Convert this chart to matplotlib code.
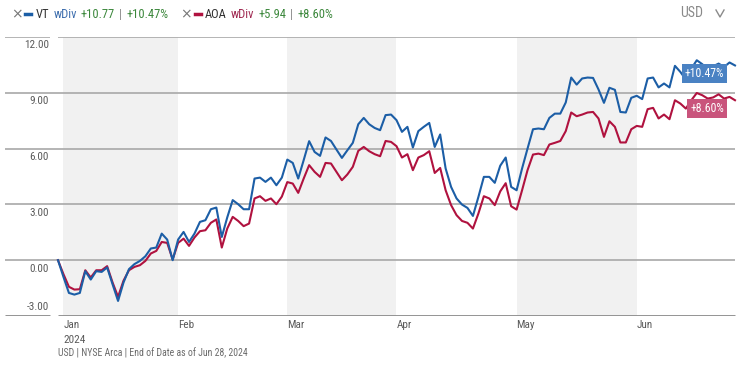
import matplotlib
matplotlib.use('Agg')
import matplotlib.pyplot as plt
from matplotlib import font_manager
from matplotlib.lines import Line2D

# pick a narrow font if there is one, else Roboto
names = set(f.name for f in font_manager.fontManager.ttflist)
FONT = 'Roboto'
for cand in ['Liberation Sans Narrow', 'Roboto Condensed', 'Noto Sans Condensed',
             'Open Sans Condensed', 'Noto Sans SemiCondensed', 'Open Sans SemiCondensed']:
    if cand in names:
        FONT = cand
        break
plt.rcParams['font.family'] = [FONT, 'DejaVu Sans']

# trading days, Dec 29 2023 (base) .. Jun 28 2024, cumulative return in %
vt = [0, -0.9, -1.76, -1.85, -1.76, -0.59, -1.04, -0.59, -0.63, -0.39,
      -1.3, -2.19, -1.2, -0.48, -0.21, -0.04, 0.21, 0.63, 0.68, 1.43,
      1.11, 0.0, 1.11, 1.52, 0.98, 1.43, 2.06, 2.15, 2.74, 2.83,
      1.25, 2.3, 3.23, 3.01, 2.74, 2.74, 4.39, 4.44, 4.21, 4.44,
      4.03, 4.44, 5.41, 5.23, 4.39, 5.38, 6.4, 5.82, 5.61, 6.6,
      6.41, 5.95, 5.5, 5.91, 6.31, 7.31, 7.65, 7.31, 7.11, 6.99,
      7.8, 7.83, 7.53, 6.9, 7.17, 6.06, 6.94, 7.17, 7.38, 6.09,
      6.76, 4.93, 3.94, 3.32, 2.99, 2.81, 2.38, 3.4, 4.48, 4.48,
      4.16, 5.08, 5.52, 3.94, 3.76, 4.93, 6.0, 7.04, 7.08, 7.04,
      7.65, 7.88, 7.88, 8.48, 9.82, 9.44, 9.77, 9.82, 9.8, 9.18,
      8.46, 9.27, 9.16, 7.97, 7.94, 8.73, 8.84, 8.66, 9.77, 9.82,
      9.29, 9.5, 9.29, 10.45, 10.12, 9.71, 10.3, 10.75, 10.54, 10.27,
      10.43, 10.57, 10.39, 10.63, 10.47]

aoa = [0, -0.75, -1.43, -1.58, -1.56, -0.54, -0.93, -0.54, -0.54, -0.32,
       -1.2, -1.97, -1.1, -0.54, -0.36, -0.27, -0.04, 0.36, 0.5, 0.98,
       0.93, 0.04, 0.93, 1.16, 0.77, 1.22, 1.56, 1.61, 2.01, 2.19,
       0.68, 1.7, 2.33, 2.11, 1.83, 1.97, 3.32, 3.44, 3.19, 3.32,
       3.01, 3.42, 4.2, 4.12, 3.62, 4.39, 5.11, 4.75, 4.48, 5.23,
       5.2, 4.75, 4.3, 4.61, 5.02, 5.88, 6.09, 5.86, 5.7, 5.59,
       6.41, 6.36, 6.13, 5.52, 5.7, 4.84, 5.52, 5.65, 5.86, 4.69,
       4.96, 3.76, 2.96, 2.42, 2.11, 2.01, 1.7, 2.51, 3.44, 3.32,
       2.96, 3.7, 4.14, 2.9, 2.72, 3.76, 4.84, 5.68, 5.73, 5.65,
       6.22, 6.31, 6.41, 6.94, 7.94, 7.74, 7.83, 7.94, 7.97, 7.62,
       6.63, 7.47, 7.17, 6.33, 6.33, 7.04, 7.22, 7.17, 8.12, 8.19,
       7.62, 7.83, 7.58, 8.6, 8.42, 8.15, 8.6, 8.99, 8.87, 8.69,
       8.75, 8.92, 8.69, 8.78, 8.60]

months = ['Jan', 'Feb', 'Mar', 'Apr', 'May', 'Jun']
month_start = [1, 22, 42, 62, 84, 106]   # index of first trading day
month_end = [22, 42, 62, 84, 106, 124]
yticks = [-3, 0, 3, 6, 9, 12]

BLUE = '#1c5ea6'
RED = '#b0123f'
GREEN = '#3b873b'
GRID = '#a8a8a8'
TXT = '#5a5a5a'

W, H = 740, 365
fig = plt.figure(figsize=(W / 100, H / 100), dpi=100)
renderer = fig.canvas.get_renderer()

def px(x, y):
    return x / W, 1 - y / H

ax = fig.add_axes([5 / W, (H - 316) / H, 732 / W, (316 - 37) / H])
x = list(range(len(vt)))
ax.set_xlim(-53 / 5.46, len(vt) - 1 + 2 / 5.46)
ax.set_ylim(-3, 12)
ax.axis('off')

# shaded alternate months
for i in [0, 2, 4]:
    ax.axvspan(month_start[i], month_end[i], color='#f1f1f1', lw=0, zorder=0)

# grid lines
x0 = ax.get_xlim()[0]
for t in yticks:
    if t in (-3, 12):
        c = GRID if t == 12 else '#8a8a8a'
        w = 1.2 if t == 12 else 2
        ax.hlines(t, x0, -1.4, color=c, lw=w, zorder=1)
        ax.hlines(t, 0, x[-1], color=c, lw=w, zorder=1)
    else:
        ax.hlines(t, x0, x[-1], color=GRID, lw=1.2, zorder=1)
    lab = '%.2f' % t
    if t == -3:
        ax.annotate(lab, (-1.7, t), xytext=(0, 3), textcoords='offset points',
                    ha='right', va='bottom', fontsize=8, color=TXT)
    else:
        ax.annotate(lab, (-1.7, t), xytext=(0, -2.5), textcoords='offset points',
                    ha='right', va='top', fontsize=8, color=TXT)

ax.plot(x, aoa, color=RED, lw=1.5, zorder=3)
ax.plot(x, vt, color=BLUE, lw=1.5, zorder=4)

# month labels
for m, s in zip(months, month_start):
    ax.annotate(m, (s, -3), xytext=(0, -3), textcoords='offset points',
                ha='left', va='top', fontsize=8, color=TXT)
ax.annotate('2024', (month_start[0], -3), xytext=(0, -14), textcoords='offset points',
            ha='left', va='top', fontsize=8, color=TXT)

# end labels
ax.annotate('+%.2f%%' % vt[-1], (x[-1], vt[-1]), xytext=(-8, -6),
            textcoords='offset points', ha='right', va='center', fontsize=8.5,
            color='white', zorder=6,
            bbox=dict(boxstyle='square,pad=0.25', fc='#4a82c3', ec='none'))
ax.annotate('+%.2f%%' % aoa[-1], (x[-1], aoa[-1]), xytext=(-8, -6),
            textcoords='offset points', ha='right', va='center', fontsize=8.5,
            color='white', zorder=6,
            bbox=dict(boxstyle='square,pad=0.25', fc='#c9547c', ec='none'))

# legend row, each piece starts at its place in the reference or after the last one
ly = 14
last = [0]
def t(xp, s, c, size=9, gap=4, **kw):
    xp = max(xp, last[0] + gap)
    tx = fig.text(*px(xp, ly), s, color=c, fontsize=size, va='center', ha='left', **kw)
    last[0] = tx.get_window_extent(renderer).x1
    return xp

t(11, '\u00d7', '#777777', size=10, family='DejaVu Sans')
fig.add_artist(Line2D([25 / W, 31 / W], [1 - ly / H] * 2, color=BLUE, lw=2.5))
last[0] = 31
t(36, 'VT', '#333333')
t(53, 'wDiv', '#3f6fae')
t(80, '+10.77', GREEN)
t(115, '|', '#888888')
t(121, '+10.47%', GREEN)
t(173, '\u00d7', '#777777', size=10, family='DejaVu Sans', gap=12)
fig.add_artist(Line2D([(last[0] + 3) / W, (last[0] + 9) / W], [1 - ly / H] * 2,
                      color=RED, lw=2.5))
last[0] = last[0] + 9
t(197, 'AOA', '#333333')
t(223, 'wDiv', '#a02a52')
t(250, '+5.94', GREEN)
t(279, '|', '#888888')
t(285, '+8.60%', GREEN)

fig.text(*px(680, 13), 'USD', color='#8a8a8a', fontsize=10, va='center', ha='left')
fig.add_artist(Line2D([716 / W, 720 / W, 724 / W],
                      [1 - 10 / H, 1 - 17 / H, 1 - 10 / H], color='#8a8a8a', lw=1))

fig.text(*px(58, 353), 'USD | NYSE Arca | End of Date as of Jun 28, 2024',
         color='#6a6a6a', fontsize=7, va='center', ha='left')

fig.savefig('out.png', dpi=100, facecolor='white')
